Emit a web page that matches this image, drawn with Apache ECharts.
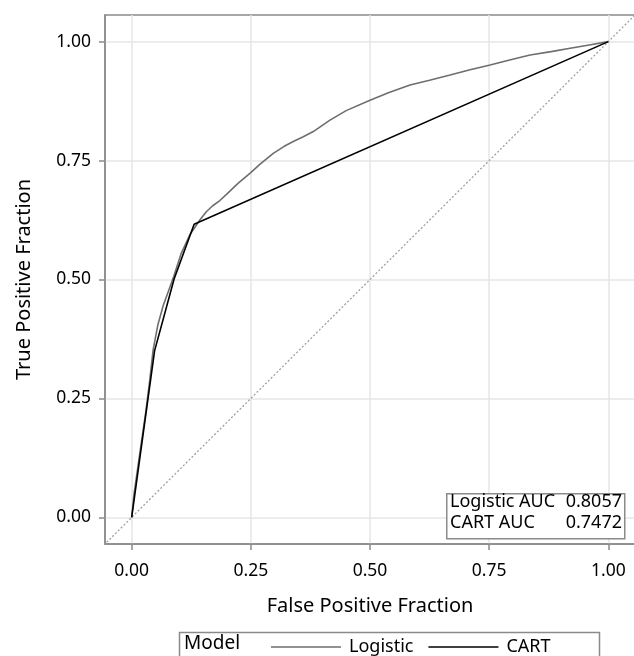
<!DOCTYPE html>
<html>
<head>
<meta charset="utf-8">
<script src="https://cdn.jsdelivr.net/npm/echarts@6/dist/echarts.min.js"></script>
<style>
html,body{margin:0;padding:0;background:#fff;}
#chart{width:634px;height:656px;}
</style>
</head>
<body>
<div id="chart"></div>
<script>
// ---- data ----
const tickValues = [0, 0.25, 0.5, 0.75, 1];
const xAxisTitle = 'False Positive Fraction';
const yAxisTitle = 'True Positive Fraction';
const seriesNames = ['Logistic', 'CART'];
const logisticFPF = [0, 0.005, 0.019, 0.030, 0.038, 0.045, 0.055, 0.066, 0.078, 0.088, 0.104, 0.122, 0.143, 0.157, 0.170, 0.185, 0.200, 0.223, 0.248, 0.270, 0.297, 0.320, 0.339, 0.360, 0.381, 0.416, 0.450, 0.500, 0.540, 0.584, 0.625, 0.668, 0.710, 0.752, 0.795, 0.836, 0.880, 0.920, 0.960, 1.000];
const logisticTPF = [0, 0.050, 0.148, 0.225, 0.289, 0.352, 0.405, 0.445, 0.478, 0.506, 0.555, 0.594, 0.625, 0.643, 0.655, 0.666, 0.680, 0.702, 0.723, 0.743, 0.765, 0.780, 0.790, 0.800, 0.811, 0.835, 0.855, 0.877, 0.893, 0.909, 0.919, 0.930, 0.941, 0.951, 0.962, 0.972, 0.979, 0.986, 0.993, 1.000];
const cartFPF = [0, 0.048, 0.089, 0.131, 1];
const cartTPF = [0, 0.350, 0.501, 0.616, 1];
const aucLabels = ['Logistic AUC', 'CART AUC'];
const aucValues = ['0.8057', '0.7472'];
const refLine = [[-0.1, -0.1], [1.1, 1.1]];
const legendTitle = 'Model';

const FONT = 'Noto Sans';
const axisMin = -0.056, axisMax = 1.056;

const chart = echarts.init(document.getElementById('chart'));
const zip = (a, b) => a.map((v, i) => [v, b[i]]);

const axisCommon = {
  type: 'value', min: axisMin, max: axisMax,
  axisLine: { show: true, onZero: false, lineStyle: { color: '#8a8a8a', width: 1.5 } },
  axisTick: { show: true, inside: false, length: 6, customValues: tickValues, lineStyle: { color: '#8a8a8a', width: 1.5 } },
  axisLabel: { customValues: tickValues, formatter: v => v.toFixed(2), color: '#000', fontFamily: FONT, fontSize: 17.5 },
  splitLine: { show: true, lineStyle: { color: '#e6e6e6', width: 1.5 } },
  nameLocation: 'middle',
  nameTextStyle: { color: '#000', fontFamily: FONT, fontSize: 20 }
};

chart.setOption({
  animation: false,
  backgroundColor: '#fff',
  grid: { left: 105, top: 15, width: 530, height: 529, show: true, borderColor: '#8a8a8a', borderWidth: 1.5, containLabel: false, outerBoundsMode: 'none' },
  xAxis: Object.assign({}, axisCommon, { name: xAxisTitle, nameGap: 52,
    axisLabel: Object.assign({}, axisCommon.axisLabel, { margin: 18 }) }),
  yAxis: Object.assign({}, axisCommon, { name: yAxisTitle, nameGap: 71,
    axisLabel: Object.assign({}, axisCommon.axisLabel, { margin: 14 }) }),
  legend: {
    data: seriesNames.map(n => ({ name: n, icon: 'rect' })),
    left: 266, top: 633,
    itemWidth: 70, itemHeight: 1.5, itemGap: 15,
    textStyle: { color: '#000', fontFamily: FONT, fontSize: 18, padding: [0, 0, 0, 3] },
    selectedMode: false
  },
  graphic: [
    { type: 'rect', left: 177, top: 630, shape: { width: 420, height: 40 }, style: { fill: 'none', stroke: '#8a8a8a', lineWidth: 1.5 }, z: 10 },
    { type: 'text', left: 184, top: 634, style: { text: legendTitle, font: '19px "' + FONT + '"', fill: '#000' }, z: 10 },
    { type: 'rect', left: 446, top: 493, shape: { width: 178, height: 45 }, style: { fill: '#fff', stroke: '#8a8a8a', lineWidth: 1.5 }, z: 10 },
    { type: 'text', left: 450, top: 493, style: { text: aucLabels[0], font: '18px "' + FONT + '"', fill: '#000' }, z: 11 },
    { type: 'text', left: 450, top: 514, style: { text: aucLabels[1], font: '18px "' + FONT + '"', fill: '#000' }, z: 11 },
    { type: 'text', right: 12, top: 493, style: { text: aucValues[0], font: '18px "' + FONT + '"', fill: '#000' }, z: 11 },
    { type: 'text', right: 12, top: 514, style: { text: aucValues[1], font: '18px "' + FONT + '"', fill: '#000' }, z: 11 }
  ],
  series: [
    { name: 'ref', type: 'line', data: refLine, symbol: 'none', silent: true, clip: true,
      lineStyle: { color: '#a0a0a0', width: 1.3, type: [2, 2] }, z: 1 },
    { name: seriesNames[0], type: 'line', data: zip(logisticFPF, logisticTPF), symbol: 'none', clip: true,
      lineStyle: { color: '#6e6e6e', width: 1.6 }, itemStyle: { color: '#6e6e6e' }, z: 3 },
    { name: seriesNames[1], type: 'line', data: zip(cartFPF, cartTPF), symbol: 'none', clip: true,
      lineStyle: { color: '#000', width: 1.6 }, itemStyle: { color: '#000' }, z: 4 }
  ]
});
</script>
</body>
</html>
